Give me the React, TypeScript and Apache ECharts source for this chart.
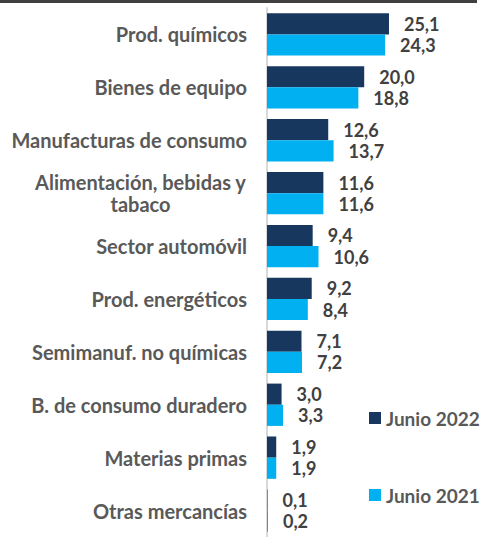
import React, { useEffect, useRef } from "react";
import * as echarts from "echarts";

const categories = [
  "Prod. químicos",
  "Bienes de equipo",
  "Manufacturas de consumo",
  "Alimentación, bebidas y\ntabaco",
  "Sector automóvil",
  "Prod. energéticos",
  "Semimanuf. no químicas",
  "B. de consumo duradero",
  "Materias primas",
  "Otras mercancías",
];
const junio2022 = [25.1, 20.0, 12.6, 11.6, 9.4, 9.2, 7.1, 3.0, 1.9, 0.1];
const junio2021 = [24.3, 18.8, 13.7, 11.6, 10.6, 8.4, 7.2, 3.3, 1.9, 0.2];
const seriesNames = ["Junio 2022", "Junio 2021"];

const FONT = "Lato, 'Open Sans', sans-serif";
const FS_CAT = 20;
const FS_VAL = 18;
const FS_LEG = 19;

export default function App() {
  const ref = useRef<HTMLDivElement>(null);
  useEffect(() => {
    if (!ref.current) return;
    const chart = echarts.init(ref.current, null, { renderer: "svg" });
    const fmt = (p: any) => Number(p.value).toFixed(1).replace(".", ",");
    const labelStyle = {
      show: true,
      position: "right" as const,
      distance: 15,
      formatter: fmt,
      color: "#404040",
      fontWeight: "bold" as const,
      fontSize: FS_VAL,
      fontFamily: FONT,
    };
    const legendText = {
      color: "#595959",
      fontWeight: "bold" as const,
      fontSize: FS_LEG,
      fontFamily: FONT,
      lineHeight: 20,
    };
    chart.setOption({
      animation: false,
      backgroundColor: "#ffffff",
      grid: { left: 267, top: 8, width: 194.4, height: 536 },
      xAxis: {
        type: "value",
        min: 0,
        max: 40,
        show: false,
      },
      yAxis: {
        type: "category",
        inverse: true,
        data: categories,
        axisTick: { show: false },
        axisLine: { show: true, lineStyle: { color: "#d9d9d9", width: 2 } },
        axisLabel: {
          margin: 20,
          color: "#595959",
          fontWeight: "bold",
          fontSize: FS_CAT,
          fontFamily: FONT,
          lineHeight: 22,
          formatter: (v: string) => {
            if (v.indexOf("\n") >= 0) {
              return v
                .split("\n")
                .map((s) => "{c|" + s + "}")
                .join("\n");
            }
            return v;
          },
          rich: {
            c: {
              width: 213,
              align: "center",
              color: "#595959",
              fontWeight: "bold",
              fontSize: FS_CAT,
              fontFamily: FONT,
              lineHeight: 22,
            },
          },
        },
      },
      legend: [
        {
          data: [seriesNames[0]],
          orient: "vertical",
          left: 369,
          top: 408,
          padding: 0,
          itemWidth: 12,
          itemHeight: 12,
          icon: "rect",
          textStyle: legendText,
        },
        {
          data: [seriesNames[1]],
          orient: "vertical",
          left: 369,
          top: 485,
          padding: 0,
          itemWidth: 12,
          itemHeight: 12,
          icon: "rect",
          textStyle: legendText,
        },
      ],
      series: [
        {
          name: seriesNames[0],
          type: "bar",
          data: junio2022,
          itemStyle: { color: "#17375e" },
          barGap: "0%",
          barCategoryGap: "20%",
          label: labelStyle,
        },
        {
          name: seriesNames[1],
          type: "bar",
          data: junio2021,
          itemStyle: { color: "#00b0f0" },
          barGap: "0%",
          barCategoryGap: "20%",
          label: labelStyle,
        },
      ],
      graphic: [
        {
          type: "rect",
          shape: { x: 0, y: 0, width: 477, height: 3 },
          style: { fill: "#404040" },
        },
      ],
    });
    return () => chart.dispose();
  }, []);
  return (
    <div
      ref={ref}
      style={{ position: "fixed", left: 0, top: 0, width: 480, height: 537 }}
    />
  );
}
